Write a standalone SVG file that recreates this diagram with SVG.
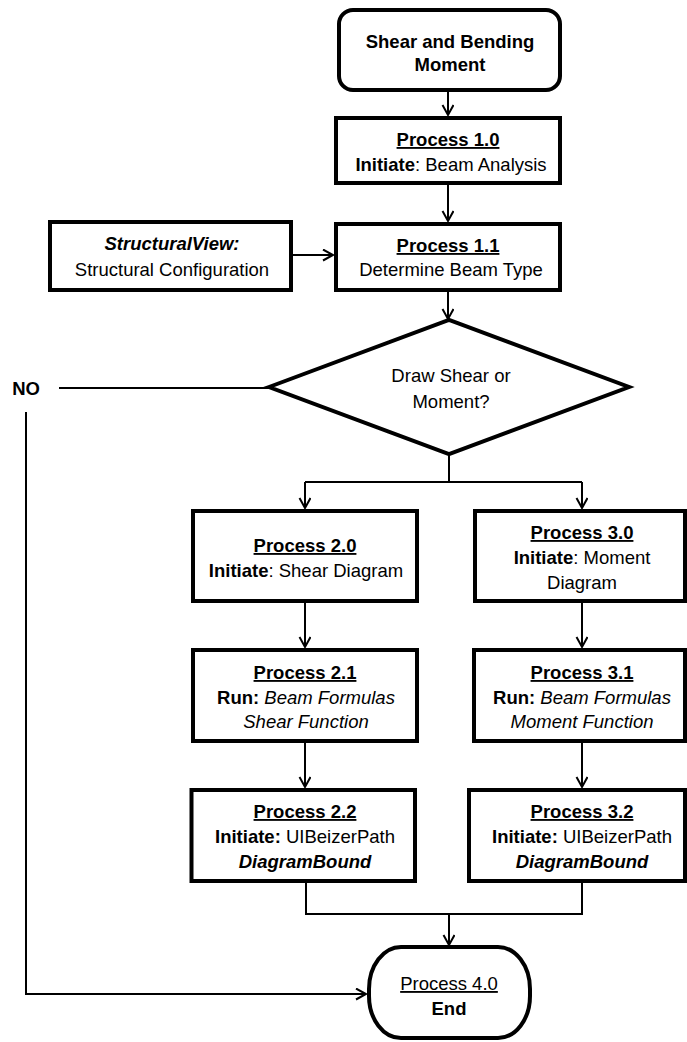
<svg xmlns="http://www.w3.org/2000/svg" width="687" height="1042" viewBox="0 0 687 1042">
  <style>
    .box { fill: #fff; stroke: #000; stroke-width: 4; }
    .wire { fill: none; stroke: #000; stroke-width: 2; }
    text { font-family: "Liberation Sans", Arial, sans-serif; font-size: 18.5px; fill: #000; text-anchor: middle; }
    .b { font-weight: bold; }
    .i { font-style: italic; }
    .u { text-decoration: underline; }
  </style>
  <defs>
    <marker id="arrow" markerUnits="userSpaceOnUse" markerWidth="14" markerHeight="14" refX="11" refY="6" orient="auto">
      <path d="M1,0.5 L11,6 L1,11.5" fill="none" stroke="#000" stroke-width="2"/>
    </marker>
  </defs>
  <rect width="687" height="1042" fill="#fff"/>

  <!-- connectors -->
  <g id="connectors">
    <path class="wire" d="M448,92 V115" marker-end="url(#arrow)"/>
    <path class="wire" d="M448,185 V221" marker-end="url(#arrow)"/>
    <path class="wire" d="M293,255 H333" marker-end="url(#arrow)"/>
    <path class="wire" d="M448,292 V319" marker-end="url(#arrow)"/>
    <path class="wire" d="M449,454 V482"/>
    <path class="wire" d="M305,482 H582"/>
    <path class="wire" d="M305,482 V508" marker-end="url(#arrow)"/>
    <path class="wire" d="M582,482 V508" marker-end="url(#arrow)"/>
    <path class="wire" d="M59,388 H269"/>
    <path class="wire" d="M26,412 V994 H366" marker-end="url(#arrow)"/>
    <path class="wire" d="M305,603 V647" marker-end="url(#arrow)"/>
    <path class="wire" d="M305,743 V787" marker-end="url(#arrow)"/>
    <path class="wire" d="M582,603 V647" marker-end="url(#arrow)"/>
    <path class="wire" d="M582,743 V787" marker-end="url(#arrow)"/>
    <path class="wire" d="M306,883 V914 H582 V883"/>
    <path class="wire" d="M449,914 V945" marker-end="url(#arrow)"/>
  </g>

  <g id="start">
    <rect class="box" x="339" y="10" width="221" height="80" rx="14"/>
    <text class="b" x="450" y="48" font-size="18">Shear and Bending</text>
    <text class="b" x="450" y="71" font-size="18">Moment</text>
  </g>

  <g id="p1-0">
    <rect class="box" x="336" y="118" width="224" height="65"/>
    <text class="b u" x="448" y="146">Process 1.0</text>
    <text x="451" y="171"><tspan class="b">Initiate</tspan>: Beam Analysis</text>
  </g>

  <g id="p1-1">
    <rect class="box" x="336" y="224" width="224" height="66"/>
    <text class="b u" x="448" y="252">Process 1.1</text>
    <text x="451" y="276">Determine Beam Type</text>
  </g>

  <g id="structural-view">
    <rect class="box" x="50" y="222" width="241" height="68"/>
    <text class="b i" x="172" y="250">StructuralView:</text>
    <text x="172" y="276">Structural Configuration</text>
  </g>

  <g id="decision">
    <polygon class="box" points="269,387 449,320 629,387 449,454"/>
    <text x="451" y="382">Draw Shear or</text>
    <text x="451" y="408">Moment?</text>
  </g>

  <g id="no-label">
    <text class="b" x="26" y="395">NO</text>
  </g>

  <g id="p2-0">
    <rect class="box" x="193" y="511" width="224" height="90"/>
    <text class="b u" x="305" y="552">Process 2.0</text>
    <text x="306" y="577"><tspan class="b">Initiate</tspan>: Shear Diagram</text>
  </g>

  <g id="p3-0">
    <rect class="box" x="475" y="511" width="210" height="90"/>
    <text class="b u" x="582" y="539">Process 3.0</text>
    <text x="582" y="564"><tspan class="b">Initiate</tspan>: Moment</text>
    <text x="582" y="589">Diagram</text>
  </g>

  <g id="p2-1">
    <rect class="box" x="193" y="650" width="224" height="91"/>
    <text class="b u" x="305" y="679">Process 2.1</text>
    <text x="306" y="704"><tspan class="b">Run:</tspan> <tspan class="i">Beam Formulas</tspan></text>
    <text class="i" x="306" y="728">Shear Function</text>
  </g>

  <g id="p3-1">
    <rect class="box" x="474" y="650" width="211" height="91"/>
    <text class="b u" x="582" y="679">Process 3.1</text>
    <text x="582" y="704"><tspan class="b">Run:</tspan> <tspan class="i">Beam Formulas</tspan></text>
    <text class="i" x="582" y="728">Moment Function</text>
  </g>

  <g id="p2-2">
    <rect class="box" x="191.5" y="790" width="223.5" height="91"/>
    <text class="b u" x="305" y="818">Process 2.2</text>
    <text x="305" y="843"><tspan class="b">Initiate:</tspan> UIBeizerPath</text>
    <text class="b i" x="305" y="868">DiagramBound</text>
  </g>

  <g id="p3-2">
    <rect class="box" x="469" y="790" width="216" height="91"/>
    <text class="b u" x="582" y="818">Process 3.2</text>
    <text x="582" y="843"><tspan class="b">Initiate:</tspan> UIBeizerPath</text>
    <text class="b i" x="582" y="868">DiagramBound</text>
  </g>

  <g id="end">
    <rect class="box" x="369" y="947" width="161" height="91" rx="32" ry="42"/>
    <text class="u" x="449" y="990">Process 4.0</text>
    <text class="b" x="449" y="1015">End</text>
  </g>
</svg>
